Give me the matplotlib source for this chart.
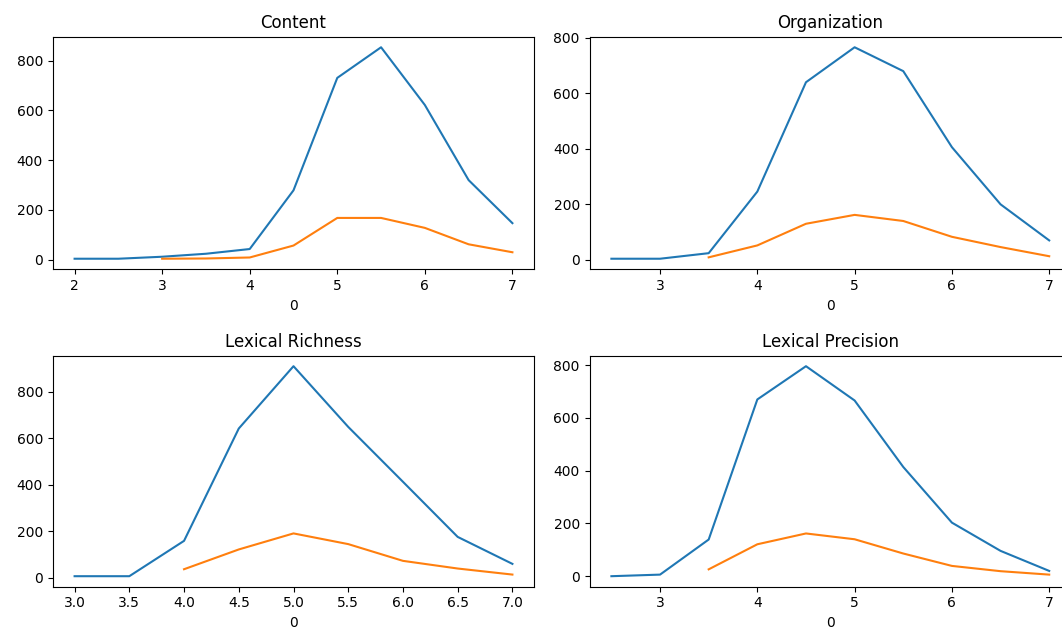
import numpy as np
import matplotlib
matplotlib.use("Agg")
import matplotlib.pyplot as plt

# score values (x axis, labelled "0")
content_x = [2.0, 2.5, 3.0, 3.5, 4.0, 4.5, 5.0, 5.5, 6.0, 6.5, 7.0]
content_a = [4, 4, 12, 24, 43, 279, 731, 854, 622, 320, 147]
content_bx = [3.0, 3.5, 4.0, 4.5, 5.0, 5.5, 6.0, 6.5, 7.0]
content_b = [4, 5, 9, 57, 168, 168, 128, 62, 30]

org_x = [2.5, 3.0, 3.5, 4.0, 4.5, 5.0, 5.5, 6.0, 6.5, 7.0]
org_a = [3, 3, 23, 245, 639, 765, 679, 405, 199, 69]
org_bx = [3.5, 4.0, 4.5, 5.0, 5.5, 6.0, 6.5, 7.0]
org_b = [8, 51, 129, 161, 139, 82, 45, 12]

rich_x = [3.0, 3.5, 4.0, 4.5, 5.0, 5.5, 6.0, 6.5, 7.0]
rich_a = [7, 7, 159, 642, 910, 649, 413, 176, 60]
rich_bx = [4.0, 4.5, 5.0, 5.5, 6.0, 6.5, 7.0]
rich_b = [37, 122, 191, 145, 73, 40, 14]

prec_x = [2.5, 3.0, 3.5, 4.0, 4.5, 5.0, 5.5, 6.0, 6.5, 7.0]
prec_a = [0, 6, 139, 670, 796, 666, 414, 203, 96, 20]
prec_bx = [3.5, 4.0, 4.5, 5.0, 5.5, 6.0, 6.5, 7.0]
prec_b = [26, 121, 162, 140, 86, 39, 19, 6]

panels = [
    ("Content", content_x, content_a, content_bx, content_b),
    ("Organization", org_x, org_a, org_bx, org_b),
    ("Lexical Richness", rich_x, rich_a, rich_bx, rich_b),
    ("Lexical Precision", prec_x, prec_a, prec_bx, prec_b),
]

W, H = 1062, 632
fig = plt.figure(figsize=(W / 100, H / 100), dpi=100)

# axes boxes in pixels: left, top, width, height (right column runs past the edge)
boxes = [(52.7, 36.7, 481.6, 232.6), (589.5, 36.7, 481.6, 232.6),
         (52.7, 355.7, 481.6, 231.0), (589.5, 355.7, 481.6, 231.0)]

for (title, xa, ya, xb, yb), (l, t, w, h) in zip(panels, boxes):
    ax = fig.add_axes([l / W, 1 - (t + h) / H, w / W, h / H])
    ax.plot(xa, ya, color="C0")
    ax.plot(xb, yb, color="C1")
    ax.set_title(title)
    ax.set_xlabel("0")

fig.savefig("out.png", dpi=100)
